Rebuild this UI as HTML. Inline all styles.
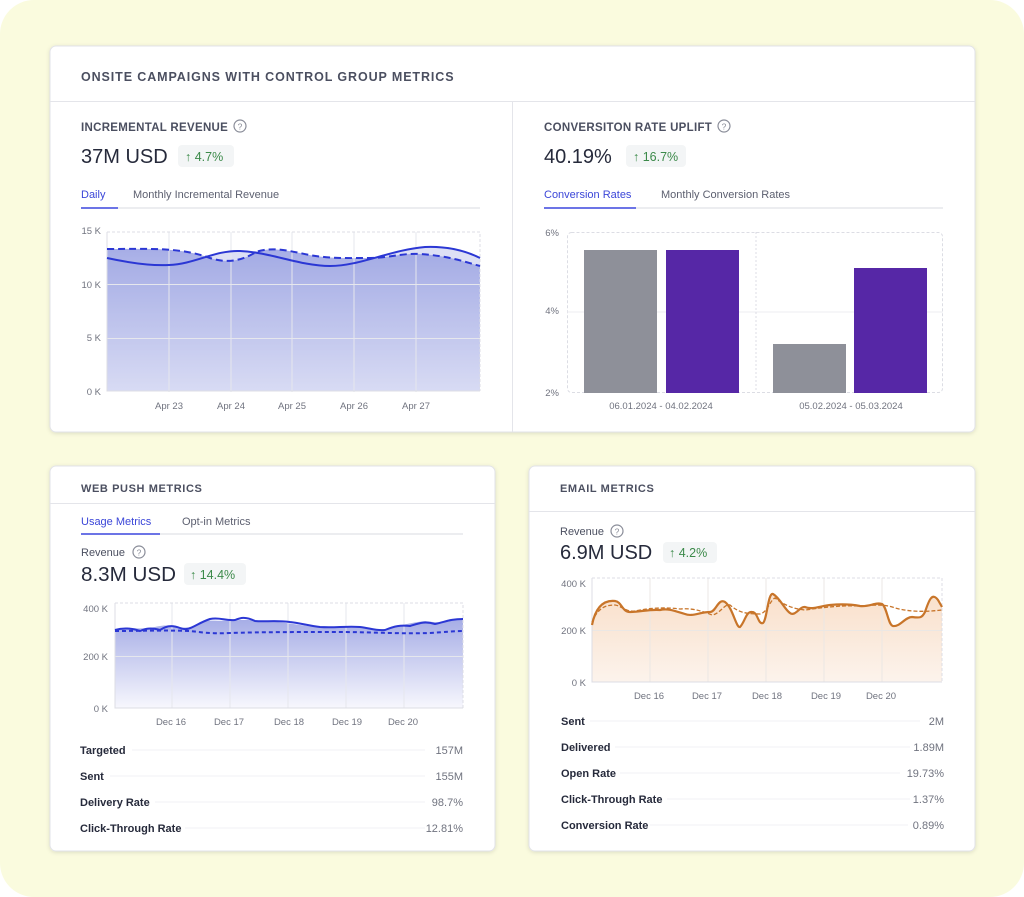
<!DOCTYPE html>
<html><head><meta charset="utf-8"><style>
html,body{margin:0;padding:0;background:#fff;}
svg{display:block;font-family:"Liberation Sans",sans-serif;}
</style></head><body>
<svg width="1024" height="897" viewBox="0 0 1024 897" xmlns="http://www.w3.org/2000/svg">
<defs>
<linearGradient id="gb" x1="0" y1="0" x2="0" y2="1"><stop offset="0" stop-color="#a6ade6"/><stop offset="1" stop-color="#f7f7fd"/></linearGradient>
<linearGradient id="go" x1="0" y1="0" x2="0" y2="1"><stop offset="0" stop-color="#f9e0cb"/><stop offset="1" stop-color="#fcf3ec"/></linearGradient>
<filter id="sh" x="-5%" y="-5%" width="110%" height="110%"><feDropShadow dx="0" dy="1" stdDeviation="2" flood-color="#000" flood-opacity="0.12"/></filter>
</defs>
<rect x="0" y="0" width="1024" height="897" rx="34" fill="#fafbde"/>

<!-- Top card -->
<rect x="50" y="46" width="925" height="386" rx="6" fill="#fff" stroke="#e2e3e8" filter="url(#sh)"/>
<text x="81" y="81" font-size="12.5" font-weight="bold" fill="#4b4f60" letter-spacing="0.9">ONSITE CAMPAIGNS WITH CONTROL GROUP METRICS</text>
<line x1="50" y1="101.5" x2="975" y2="101.5" stroke="#e4e5ea"/>
<line x1="512.5" y1="102" x2="512.5" y2="432" stroke="#e4e5ea"/>

<!-- Incremental revenue -->
<text x="81" y="131" font-size="11.5" font-weight="bold" fill="#4b4f60" letter-spacing="0.3">INCREMENTAL REVENUE</text>
<circle cx="240" cy="126" r="6" fill="none" stroke="#8a8d99" stroke-width="1.2"/><text x="240" y="129.5" font-size="8.5" fill="#8a8d99" text-anchor="middle">?</text>
<text x="81" y="163" font-size="20" fill="#262a3b">37M USD</text>
<rect x="178" y="145" width="56" height="22" rx="4" fill="#f3f5f6"/>
<text x="185" y="161" font-size="12.5" fill="#3c8a4a">↑ 4.7%</text>
<text x="81" y="198" font-size="11" fill="#3b46d8">Daily</text>
<text x="133" y="198" font-size="11" fill="#5d6070">Monthly Incremental Revenue</text>
<line x1="81" y1="208" x2="480" y2="208" stroke="#e6e7ec" stroke-width="1.5"/>
<line x1="81" y1="208" x2="118" y2="208" stroke="#6c74e6" stroke-width="2"/>

<g font-size="9.5" fill="#70737f" text-anchor="end">
<text x="101" y="234">15 K</text><text x="101" y="288">10 K</text><text x="101" y="341">5 K</text><text x="101" y="395">0 K</text>
</g>
<g font-size="9.5" fill="#70737f" text-anchor="middle">
<text x="169" y="409">Apr 23</text><text x="231" y="409">Apr 24</text><text x="292" y="409">Apr 25</text><text x="354" y="409">Apr 26</text><text x="416" y="409">Apr 27</text>
</g>
<path d="M107,249 C150,249 180,247 210,258 C225,263 240,262 256,252 C270,247 285,250 300,253 C325,259 345,258 370,258 C390,258 400,253 420,254 C450,256 465,262 480,266 L480,391 L107,391 Z" fill="url(#gb)"/>
<path d="M107,258 C130,263 150,266 169,265 C195,264 215,250 240,251 C270,252 300,266 330,266 C360,266 390,250 425,247 C450,246 468,252 480,258 L480,391 L107,391 Z" fill="#9ea5e3" opacity="0.35"/>
<g stroke="#e6e7ed" stroke-width="1">
<line x1="107" y1="284.5" x2="480" y2="284.5"/><line x1="107" y1="338.5" x2="480" y2="338.5"/>
<line x1="169" y1="232" x2="169" y2="392"/><line x1="231" y1="232" x2="231" y2="392"/><line x1="292" y1="232" x2="292" y2="392"/><line x1="354" y1="232" x2="354" y2="392"/><line x1="416" y1="232" x2="416" y2="392"/>
</g>
<path d="M107,232 H480 V391" fill="none" stroke="#dcdde4" stroke-dasharray="3,2"/>
<path d="M107,232 V391 H480" fill="none" stroke="#dcdde4"/>
<path d="M107,249 C150,249 180,247 210,258 C225,263 240,262 256,252 C270,247 285,250 300,253 C325,259 345,258 370,258 C390,258 400,253 420,254 C450,256 465,262 480,266" fill="none" stroke="#2b37d4" stroke-width="2" stroke-dasharray="7,4"/>
<path d="M107,258 C130,263 150,266 169,265 C195,264 215,250 240,251 C270,252 300,266 330,266 C360,266 390,250 425,247 C450,246 468,252 480,258" fill="none" stroke="#2b37d4" stroke-width="2"/>

<!-- Conversion rate -->
<text x="544" y="131" font-size="11.5" font-weight="bold" fill="#4b4f60" letter-spacing="0.3">CONVERSITON RATE UPLIFT</text>
<circle cx="724" cy="126" r="6" fill="none" stroke="#8a8d99" stroke-width="1.2"/><text x="724" y="129.5" font-size="8.5" fill="#8a8d99" text-anchor="middle">?</text>
<text x="544" y="163" font-size="20" fill="#262a3b">40.19%</text>
<rect x="626" y="145" width="60" height="22" rx="4" fill="#f3f5f6"/>
<text x="633" y="161" font-size="12.5" fill="#3c8a4a">↑ 16.7%</text>
<text x="544" y="198" font-size="11" fill="#3b46d8">Conversion Rates</text>
<text x="661" y="198" font-size="11" fill="#5d6070">Monthly Conversion Rates</text>
<line x1="544" y1="208" x2="943" y2="208" stroke="#e6e7ec" stroke-width="1.5"/>
<line x1="544" y1="208" x2="636" y2="208" stroke="#6c74e6" stroke-width="2"/>
<g font-size="9.5" fill="#70737f" text-anchor="end">
<text x="559" y="236">6%</text><text x="559" y="314">4%</text><text x="559" y="396">2%</text>
</g>
<rect x="567.5" y="232.5" width="375" height="160" rx="4" fill="none" stroke="#dcdde4" stroke-dasharray="3,2"/>
<line x1="567" y1="312" x2="943" y2="312" stroke="#ececf0"/>
<line x1="756" y1="232" x2="756" y2="392" stroke="#dcdde4" stroke-dasharray="2,2"/>
<rect x="584" y="250" width="73" height="143" fill="#8e9099"/>
<rect x="666" y="250" width="73" height="143" fill="#5627a6"/>
<rect x="773" y="344" width="73" height="49" fill="#8e9099"/>
<rect x="854" y="268" width="73" height="125" fill="#5627a6"/>
<g font-size="9.5" fill="#70737f" text-anchor="middle">
<text x="661" y="409">06.01.2024 - 04.02.2024</text><text x="851" y="409">05.02.2024 - 05.03.2024</text>
</g>

<!-- Web push card -->
<rect x="50" y="466" width="445" height="385" rx="6" fill="#fff" stroke="#e2e3e8" filter="url(#sh)"/>
<text x="81" y="492" font-size="11" font-weight="bold" fill="#4b4f60" letter-spacing="0.6">WEB PUSH METRICS</text>
<line x1="50" y1="503.5" x2="495" y2="503.5" stroke="#e4e5ea"/>
<text x="81" y="525" font-size="11" fill="#3b46d8">Usage Metrics</text>
<text x="182" y="525" font-size="11" fill="#5d6070">Opt-in Metrics</text>
<line x1="81" y1="534" x2="463" y2="534" stroke="#e6e7ec" stroke-width="1.5"/>
<line x1="81" y1="534" x2="160" y2="534" stroke="#6c74e6" stroke-width="2"/>
<text x="81" y="556" font-size="11" fill="#4b4f60">Revenue</text>
<circle cx="139" cy="552" r="6" fill="none" stroke="#8a8d99" stroke-width="1.2"/><text x="139" y="555.5" font-size="8.5" fill="#8a8d99" text-anchor="middle">?</text>
<text x="81" y="581" font-size="20" fill="#262a3b" textLength="95" lengthAdjust="spacingAndGlyphs">8.3M USD</text>
<rect x="184" y="563" width="62" height="22" rx="4" fill="#f3f5f6"/>
<text x="190" y="579" font-size="12.5" fill="#3c8a4a">↑ 14.4%</text>
<g font-size="9.5" fill="#70737f" text-anchor="end">
<text x="108" y="612">400 K</text><text x="108" y="660">200 K</text><text x="108" y="712">0 K</text>
</g>
<path d="M115,630 C125,627 135,629 150,628 C160,626 165,624 175,627 C185,627 190,630 200,622 C210,619 220,622 240,620 C260,620 275,621 300,625 C320,628 340,627 360,628 C375,628 380,632 390,629 C400,625 410,623 425,621 C435,622 440,624 450,619 L463,619 L463,708 L115,708 Z" fill="url(#gb)"/>
<g stroke="#e6e7ed">
<line x1="115" y1="656.5" x2="463" y2="656.5"/>
<line x1="172" y1="603" x2="172" y2="708"/><line x1="230" y1="603" x2="230" y2="708"/><line x1="288" y1="603" x2="288" y2="708"/><line x1="346" y1="603" x2="346" y2="708"/><line x1="404" y1="603" x2="404" y2="708"/>
</g>
<path d="M115,603 H463 V708" fill="none" stroke="#dcdde4" stroke-dasharray="3,2"/>
<path d="M115,603 V708 H463" fill="none" stroke="#dcdde4"/>
<path d="M115,631 C140,631 165,630 190,631 C200,632 210,634 230,633 C260,632 300,632 340,632 C370,632 400,634 430,633 C445,632 455,631 463,631" fill="none" stroke="#2b37d4" stroke-width="2" stroke-dasharray="4,3"/>
<path d="M115,630 C125,627 135,629 140,631 C145,629 150,627 160,630 C165,627 170,624 180,628 C190,632 195,624 210,619 C220,617 225,621 235,620 C240,618 245,616 255,621 C265,622 275,620 290,622 C300,623 310,626 320,627 C335,628 345,626 360,627 C370,628 375,631 385,630 C395,626 400,625 410,626 C420,623 425,621 435,624 C445,622 450,619 463,619" fill="none" stroke="#2b37d4" stroke-width="2"/>
<g font-size="9.5" fill="#70737f" text-anchor="middle">
<text x="171" y="725">Dec 16</text><text x="229" y="725">Dec 17</text><text x="289" y="725">Dec 18</text><text x="347" y="725">Dec 19</text><text x="403" y="725">Dec 20</text>
</g>
<g font-size="11" fill="#262a3b" font-weight="bold">
<text x="80" y="754">Targeted</text><text x="80" y="780">Sent</text><text x="80" y="806">Delivery Rate</text><text x="80" y="832">Click-Through Rate</text>
</g>
<g font-size="11" fill="#70737f" text-anchor="end">
<text x="463" y="754">157M</text><text x="463" y="780">155M</text><text x="463" y="806">98.7%</text><text x="463" y="832">12.81%</text>
</g>
<g stroke="#f0f1f4">
<line x1="132" y1="750" x2="425" y2="750"/><line x1="110" y1="776" x2="425" y2="776"/><line x1="155" y1="802" x2="425" y2="802"/><line x1="185" y1="828" x2="425" y2="828"/>
</g>

<!-- Email card -->
<rect x="529" y="466" width="446" height="385" rx="6" fill="#fff" stroke="#e2e3e8" filter="url(#sh)"/>
<text x="560" y="492" font-size="11" font-weight="bold" fill="#4b4f60" letter-spacing="0.6">EMAIL METRICS</text>
<line x1="529" y1="511.5" x2="975" y2="511.5" stroke="#e4e5ea"/>
<text x="560" y="535" font-size="11" fill="#4b4f60">Revenue</text>
<circle cx="617" cy="531" r="6" fill="none" stroke="#8a8d99" stroke-width="1.2"/><text x="617" y="534.5" font-size="8.5" fill="#8a8d99" text-anchor="middle">?</text>
<text x="560" y="559" font-size="20" fill="#262a3b">6.9M USD</text>
<rect x="663" y="542" width="54" height="21" rx="4" fill="#f3f5f6"/>
<text x="669" y="557" font-size="12.5" fill="#3c8a4a">↑ 4.2%</text>
<g font-size="9.5" fill="#70737f" text-anchor="end">
<text x="586" y="587">400 K</text><text x="586" y="634">200 K</text><text x="586" y="686">0 K</text>
</g>
<path d="M592,625 C596,605 605,600 615,601 C622,602 622,612 630,612 C640,612 650,609 660,610 C668,608 675,611 685,614 C692,617 700,612 710,612 C716,612 718,598 725,602 C733,608 736,628 740,627 C745,622 746,611 752,612 C758,612 758,625 763,623 C767,620 768,592 773,594 C780,598 785,610 790,613 C795,617 800,606 805,607 C812,610 820,606 830,605 C840,604 850,604 860,606 C870,607 875,602 882,604 C887,607 888,625 893,626 C900,627 905,617 912,617 C920,618 922,618 925,612 C929,600 932,592 938,600 L942,607 L942,682 L592,682 Z" fill="url(#go)"/>
<g stroke="#ebe7e4">
<line x1="592" y1="630.5" x2="942" y2="630.5"/>
<line x1="650" y1="578" x2="650" y2="682"/><line x1="708" y1="578" x2="708" y2="682"/><line x1="766" y1="578" x2="766" y2="682"/><line x1="824" y1="578" x2="824" y2="682"/><line x1="882" y1="578" x2="882" y2="682"/>
</g>
<path d="M592,578 H942 V682" fill="none" stroke="#dcdde4" stroke-dasharray="3,2"/>
<path d="M592,578 V682 H942" fill="none" stroke="#dcdde4"/>
<path d="M592,622 C598,608 605,605 615,605 C622,606 625,612 635,611 C650,608 665,607 680,609 C690,608 700,610 712,615 C720,614 725,603 730,605 C738,612 745,614 760,614 C768,612 770,600 775,598 C785,606 795,609 805,610 C820,608 840,605 860,606 C875,605 885,604 895,608 C910,612 925,612 942,610" fill="none" stroke="#c8752a" stroke-width="1.3" stroke-dasharray="4,2"/>
<path d="M592,625 C596,605 605,600 615,601 C622,602 622,612 630,612 C640,612 650,609 660,610 C668,608 675,611 685,614 C692,617 700,612 710,612 C716,612 718,598 725,602 C733,608 736,628 740,627 C745,622 746,611 752,612 C758,612 758,625 763,623 C767,620 768,592 773,594 C780,598 785,610 790,613 C795,617 800,606 805,607 C812,610 820,606 830,605 C840,604 850,604 860,606 C870,607 875,602 882,604 C887,607 888,625 893,626 C900,627 905,617 912,617 C920,618 922,618 925,612 C929,600 932,592 938,600 L942,607" fill="none" stroke="#c8752a" stroke-width="2.2"/>
<g font-size="9.5" fill="#70737f" text-anchor="middle">
<text x="649" y="699">Dec 16</text><text x="707" y="699">Dec 17</text><text x="767" y="699">Dec 18</text><text x="826" y="699">Dec 19</text><text x="881" y="699">Dec 20</text>
</g>
<g font-size="11" fill="#262a3b" font-weight="bold">
<text x="561" y="725">Sent</text><text x="561" y="751">Delivered</text><text x="561" y="777">Open Rate</text><text x="561" y="803">Click-Through Rate</text><text x="561" y="829">Conversion Rate</text>
</g>
<g font-size="11" fill="#70737f" text-anchor="end">
<text x="944" y="725">2M</text><text x="944" y="751">1.89M</text><text x="944" y="777">19.73%</text><text x="944" y="803">1.37%</text><text x="944" y="829">0.89%</text>
</g>
<g stroke="#f0f1f4">
<line x1="590" y1="721" x2="920" y2="721"/><line x1="615" y1="747" x2="910" y2="747"/><line x1="620" y1="773" x2="900" y2="773"/><line x1="667" y1="799" x2="910" y2="799"/><line x1="650" y1="825" x2="908" y2="825"/>
</g>
</svg>
</body></html>
